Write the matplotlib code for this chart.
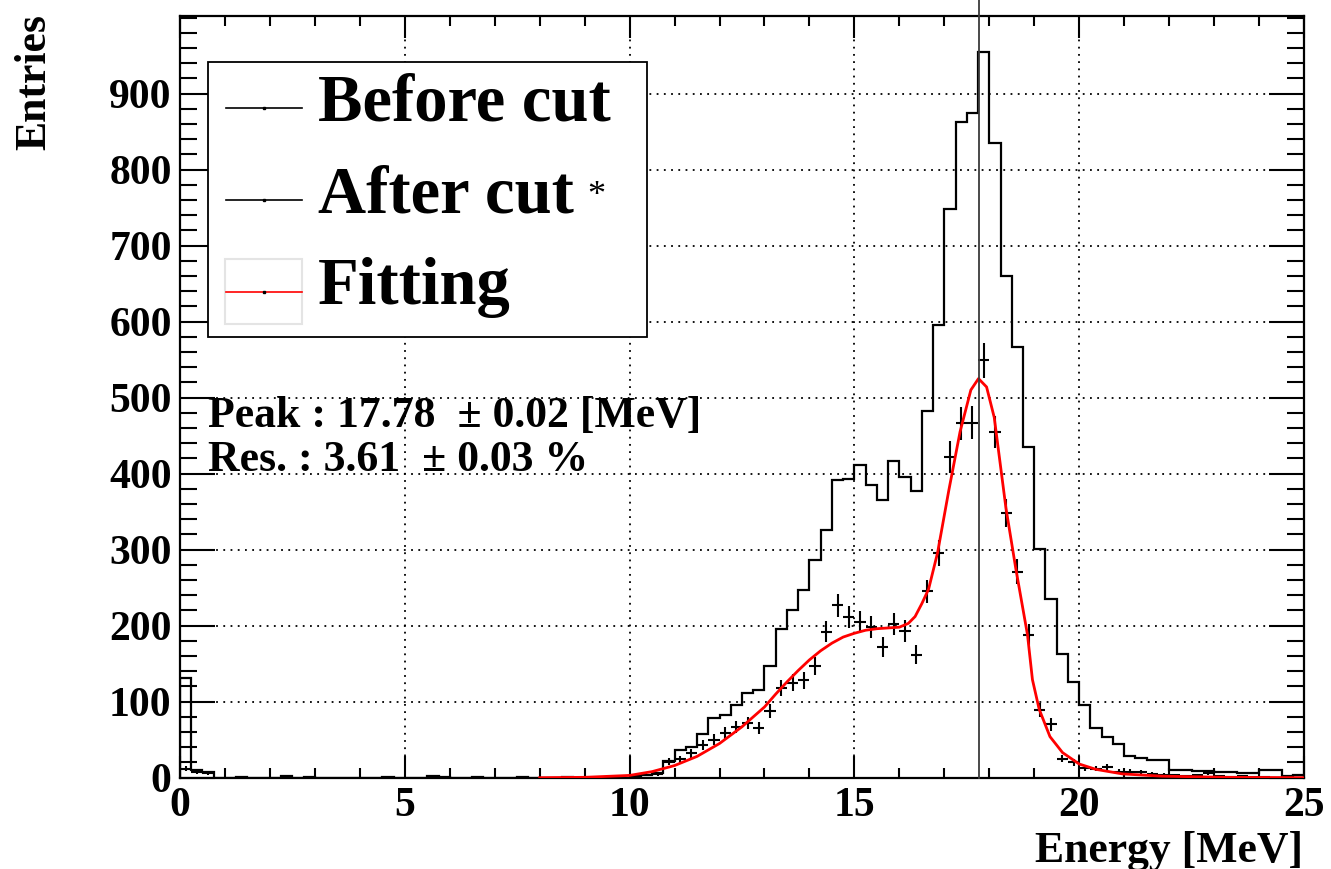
import matplotlib
matplotlib.use('Agg')
import matplotlib.pyplot as plt
import matplotlib.transforms as mtransforms
from matplotlib.patches import Rectangle
from matplotlib.lines import Line2D
from matplotlib.ticker import MultipleLocator
import numpy as np

plt.rcParams['font.family'] = ['Liberation Serif', 'DejaVu Serif']
plt.rcParams['font.weight'] = 'bold'

# histogram binning: 100 bins of 0.25 MeV
e_min, e_max, n_bins = 0.0, 25.0, 100

# entries per bin before the cut
before_cut = [131, 10, 8, 0, 0, 1, 0, 0, 0, 2,
              0, 1, 0, 0, 0, 0, 0, 0, 1, 0,
              0, 0, 2, 1, 0, 0, 1, 0, 0, 0,
              1, 0, 0, 0, 1, 0, 0, 0, 1, 0,
              2, 4, 6, 22, 36, 40, 58, 79, 82, 96,
              112, 116, 147, 196, 220, 247, 286, 326, 392, 393,
              412, 385, 365, 417, 395, 377, 482, 595, 748, 863,
              874, 954, 835, 660, 567, 435, 301, 235, 163, 126,
              95, 66, 54, 44, 28, 26, 23, 23, 10, 10,
              9, 9, 8, 8, 6, 6, 10, 10, 2, 4]

# entries per bin after the cut
after_cut = [12, 8, 6, 0, 0, 0, 0, 0, 0, 0,
             0, 0, 0, 0, 0, 0, 0, 0, 0, 0,
             0, 0, 0, 0, 0, 0, 0, 0, 0, 0,
             0, 0, 0, 0, 0, 0, 0, 0, 0, 0,
             2, 4, 5, 21, 24, 32, 43, 50, 59, 67,
             72, 65, 88, 118, 125, 128, 147, 192, 227, 211,
             205, 198, 172, 202, 193, 162, 245, 296, 422, 466,
             467, 549, 455, 348, 271, 188, 89, 70, 25, 20,
             13, 12, 14, 8, 8, 7, 5, 4, 3, 2,
             3, 6, 2, 1, 2, 1, 1, 0, 1, 0]

# fitted curve, sampled along the energy axis
fit_x = [8.0, 9.0, 10.0, 10.5, 11.0, 11.5, 12.0, 12.25, 12.5, 12.75,
         13.0, 13.25, 13.5, 13.75, 14.0, 14.25, 14.5, 14.75, 15.0, 15.25,
         15.5, 15.75, 16.0, 16.2, 16.35, 16.5, 16.65, 16.85, 17.1, 17.35,
         17.59, 17.76, 17.94, 18.11, 18.37, 18.59, 18.85, 18.96, 19.11, 19.35,
         19.63, 20.0, 20.37, 20.96, 21.85, 23.3, 25.0]
fit_y = [0, 0.5, 3, 8, 16, 28, 45, 56, 67, 80,
         93, 110, 126, 141, 155, 167, 177, 185, 190, 194,
         196, 197, 198, 203, 212, 229, 248, 296, 378, 455,
         510, 525, 514, 474, 355, 275, 188, 129, 90, 54,
         33, 18, 11, 5, 2, 0.5, 0]

peak_mev, peak_err = 17.78, 0.02
res_pct, res_err = 3.61, 0.03

W, H = 1331, 869


def fx(px):
    return px / W


def fy(py):
    return 1 - py / H


fig = plt.figure(figsize=(W / 100, H / 100), dpi=100)
ax = fig.add_axes([fx(180), fy(777.7), (1304 - 180) / W, (777.7 - 16) / H])

edges = np.linspace(e_min, e_max, n_bins + 1)
centers = 0.5 * (edges[:-1] + edges[1:])
half_w = 0.5 * (edges[1] - edges[0])

ax.stairs(before_cut, edges, color='black', lw=1.6, zorder=3)

after = np.array(after_cut, dtype=float)
keep = after > 0
ax.errorbar(centers[keep], after[keep], xerr=half_w, yerr=np.sqrt(after[keep]),
            fmt='none', ecolor='black', elinewidth=1.5, capsize=0, zorder=4)

ax.plot(fit_x, fit_y, color='red', lw=2, zorder=5)

# peak position marker, runs up past the frame
trans = mtransforms.blended_transform_factory(ax.transData, ax.transAxes)
ax.plot([peak_mev, peak_mev], [0, 1.05], transform=trans, clip_on=False,
        color='#3a3a3a', lw=1.3, zorder=6)

ax.set_xlim(e_min, e_max)
ax.set_ylim(0, 1002)
ax.set_xticks([0, 5, 10, 15, 20, 25])
ax.set_yticks(range(0, 1000, 100))
ax.xaxis.set_minor_locator(MultipleLocator(1))
ax.yaxis.set_minor_locator(MultipleLocator(20))

ax.grid(True, which='major', linestyle=(0, (1, 3)), color='black', lw=1.3)
ax.set_axisbelow(True)

for s in ax.spines.values():
    s.set_linewidth(1.6)

ax.tick_params(axis='both', which='both', direction='in', top=True, right=True,
               width=1.5, labelsize=30)
ax.tick_params(axis='x', which='major', length=16, pad=7)
ax.tick_params(axis='x', which='minor', length=7)
ax.tick_params(axis='y', which='major', length=25, pad=6)
ax.tick_params(axis='y', which='minor', length=12)

fig.text(fx(34), fy(14), 'Entries', rotation=90, ha='center', va='top', fontsize=31.5)
fig.text(fx(1303), fy(851), 'Energy [MeV]', ha='right', va='center', fontsize=31.5)

# legend box
fig.patches.append(Rectangle((fx(208), fy(337)), (647 - 208) / W, (337 - 62) / H,
                             transform=fig.transFigure, facecolor='white',
                             edgecolor='black', lw=1.3, zorder=10))
fig.patches.append(Rectangle((fx(225), fy(324)), (302 - 225) / W, (324 - 259) / H,
                             transform=fig.transFigure, facecolor='none',
                             edgecolor='#e4e4e4', lw=1.5, zorder=11))
legend_rows = [(108, 'black', 'Before cut'), (200, 'black', 'After cut'), (292, 'red', 'Fitting')]
for ly, col, label in legend_rows:
    fig.lines.append(Line2D([fx(226), fx(302)], [fy(ly), fy(ly)], transform=fig.transFigure,
                            color=col, lw=1.2, zorder=12))
    fig.lines.append(Line2D([fx(264)], [fy(ly)], transform=fig.transFigure, marker='s',
                            markersize=1.5, color='black', zorder=13))
    fig.text(fx(318), fy(ly - 4), label, ha='left', va='center', fontsize=48, zorder=13)
fig.text(fx(587), fy(196), '*', ha='left', va='center', fontsize=26,
         fontweight='normal', zorder=13)

fig.text(fx(208), fy(416), f'Peak : {peak_mev:.2f}  \u00b1 {peak_err:.2f} [MeV]',
         ha='left', va='center', fontsize=31.5)
fig.text(fx(208), fy(460), f'Res. : {res_pct:.2f}  \u00b1 {res_err:.2f} %',
         ha='left', va='center', fontsize=31.5)

fig.savefig('out.png', dpi=100)
